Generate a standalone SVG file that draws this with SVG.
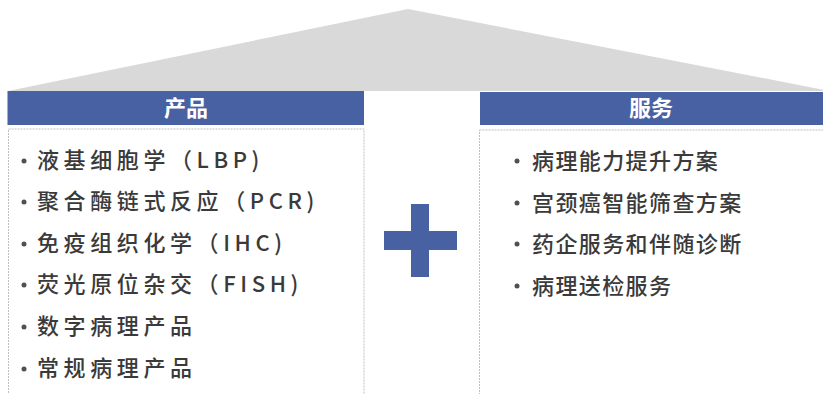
<svg xmlns="http://www.w3.org/2000/svg" width="823" height="394" viewBox="0 0 823 394">
<style>
.hdr{fill:#4861a3}
.hdrt{fill:#ffffff;font-family:"Noto Sans CJK SC","Noto Sans",sans-serif;font-size:22px;font-weight:bold;text-anchor:middle}
.box{fill:#ffffff;stroke:#bfbfbf;stroke-width:1;stroke-dasharray:2 1}
.lt{fill:#3a3a3a;font-family:"Noto Sans CJK SC","Noto Sans",sans-serif;font-size:22px;font-weight:500;letter-spacing:4.6px}
.rt{fill:#3a3a3a;font-family:"Noto Sans CJK SC","Noto Sans",sans-serif;font-size:22px;font-weight:500;letter-spacing:1.4px}
.dot{fill:#505050}
</style>
<rect width="823" height="394" fill="#ffffff"/>
<g id="roof">
<polygon points="8,91 408,9 830,91" fill="#d9d9d9"/>
</g>
<g id="products">
<rect class="hdr" x="7.5" y="91" width="356.5" height="34"/>
<text class="hdrt" x="186" y="116">产品</text>
<rect class="box" x="8.5" y="129" width="355.5" height="270"/>
<g>
<circle class="dot" cx="24" cy="161" r="2.5"/><text class="lt" x="37" y="168">液基细胞学（LBP)</text>
<circle class="dot" cx="24" cy="202" r="2.5"/><text class="lt" x="37" y="209">聚合酶链式反应（PCR)</text>
<circle class="dot" cx="24" cy="244" r="2.5"/><text class="lt" x="37" y="251">免疫组织化学（IHC)</text>
<circle class="dot" cx="24" cy="285" r="2.5"/><text class="lt" x="37" y="292">荧光原位杂交（FISH)</text>
<circle class="dot" cx="24" cy="327" r="2.5"/><text class="lt" x="37" y="334">数字病理产品</text>
<circle class="dot" cx="24" cy="369" r="2.5"/><text class="lt" x="37" y="376">常规病理产品</text>
</g>
</g>
<g id="plus">
<rect class="hdr" x="411" y="204" width="18" height="73"/>
<rect class="hdr" x="384" y="231" width="73" height="19"/>
</g>
<g id="services">
<rect class="hdr" x="480" y="92" width="350" height="33"/>
<text class="hdrt" x="651" y="116">服务</text>
<rect class="box" x="479.5" y="130" width="350" height="270"/>
<g>
<circle class="dot" cx="517" cy="161" r="2.5"/><text class="rt" x="532" y="169">病理能力提升方案</text>
<circle class="dot" cx="517" cy="203" r="2.5"/><text class="rt" x="532" y="211">宫颈癌智能筛查方案</text>
<circle class="dot" cx="517" cy="244" r="2.5"/><text class="rt" x="532" y="252">药企服务和伴随诊断</text>
<circle class="dot" cx="517" cy="286" r="2.5"/><text class="rt" x="532" y="294">病理送检服务</text>
</g>
</g>
<g id="connectors"/>
</svg>
